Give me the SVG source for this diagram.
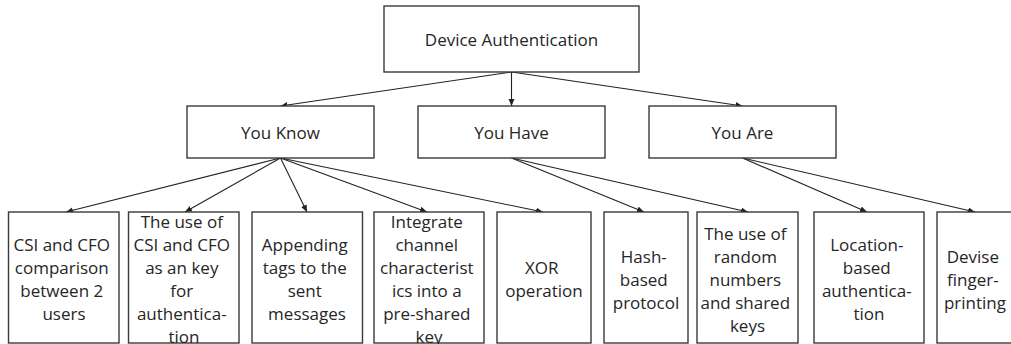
<svg xmlns="http://www.w3.org/2000/svg" width="1011" height="344" viewBox="0 0 1011 344">
  <style>
    .box { fill: #ffffff; stroke: #3a3a3a; stroke-width: 1.4; }
    .lbl { font-family: "Open Sans", "Liberation Sans", sans-serif; font-size: 17px; fill: #262626; text-anchor: middle; }
    .edge { stroke: #222222; stroke-width: 1.1; fill: none; marker-end: url(#arrow); }
  </style>
  <defs>
    <marker id="arrow" markerUnits="userSpaceOnUse" markerWidth="8" markerHeight="8" refX="7" refY="3" orient="auto">
      <path d="M0,0 L7,3 L0,6 Z" fill="#222222"/>
    </marker>
  </defs>

  <!-- connectors -->
  <g id="connectors">
    <line class="edge" x1="511.5" y1="72" x2="280.5" y2="106"/>
    <line class="edge" x1="511.5" y1="72" x2="511.5" y2="106"/>
    <line class="edge" x1="511.5" y1="72" x2="742.5" y2="106"/>
    <line class="edge" x1="280.5" y1="158" x2="66" y2="212"/>
    <line class="edge" x1="280.5" y1="158" x2="185" y2="212"/>
    <line class="edge" x1="280.5" y1="158" x2="307" y2="212"/>
    <line class="edge" x1="280.5" y1="158" x2="427" y2="212"/>
    <line class="edge" x1="280.5" y1="158" x2="543" y2="212"/>
    <line class="edge" x1="511.5" y1="158" x2="644" y2="212"/>
    <line class="edge" x1="511.5" y1="158" x2="748" y2="212"/>
    <line class="edge" x1="742.5" y1="158" x2="867" y2="212"/>
    <line class="edge" x1="742.5" y1="158" x2="975" y2="212"/>
  </g>

  <!-- root -->
  <g id="device-authentication">
    <rect class="box" x="384" y="6" width="255" height="66"/>
    <text class="lbl" x="511.5" y="46">Device Authentication</text>
  </g>

  <!-- categories -->
  <g id="you-know">
    <rect class="box" x="187" y="106" width="187" height="52"/>
    <text class="lbl" x="280.5" y="139">You Know</text>
  </g>
  <g id="you-have">
    <rect class="box" x="418" y="106" width="187" height="52"/>
    <text class="lbl" x="511.5" y="139">You Have</text>
  </g>
  <g id="you-are">
    <rect class="box" x="649" y="106" width="187" height="52"/>
    <text class="lbl" x="742.5" y="139">You Are</text>
  </g>

  <!-- methods -->
  <g id="csi-cfo-comparison">
    <rect class="box" x="8.5" y="212" width="110.5" height="131"/>
    <text class="lbl" x="64">
      <tspan x="64" y="251">CSI and CFO</tspan>
      <tspan x="64" y="274">comparison</tspan>
      <tspan x="64" y="297">between 2</tspan>
      <tspan x="64" y="320">users</tspan>
    </text>
  </g>
  <g id="csi-cfo-key">
    <rect class="box" x="128.5" y="212" width="110.5" height="131"/>
    <text class="lbl" x="184">
      <tspan x="184" y="228">The use of</tspan>
      <tspan x="184" y="251">CSI and CFO</tspan>
      <tspan x="184" y="274">as an key</tspan>
      <tspan x="184" y="297">for</tspan>
      <tspan x="184" y="320">authentica-</tspan>
      <tspan x="184" y="343">tion</tspan>
    </text>
  </g>
  <g id="appending-tags">
    <rect class="box" x="252" y="212" width="110.5" height="131"/>
    <text class="lbl" x="307">
      <tspan x="307" y="251">Appending</tspan>
      <tspan x="307" y="274">tags to the</tspan>
      <tspan x="307" y="297">sent</tspan>
      <tspan x="307" y="320">messages</tspan>
    </text>
  </g>
  <g id="channel-characteristics">
    <rect class="box" x="374" y="212" width="110" height="131"/>
    <text class="lbl" x="429">
      <tspan x="429" y="228">Integrate</tspan>
      <tspan x="429" y="251">channel</tspan>
      <tspan x="429" y="274">characterist</tspan>
      <tspan x="429" y="297">ics into a</tspan>
      <tspan x="429" y="320">pre-shared</tspan>
      <tspan x="429" y="343">key</tspan>
    </text>
  </g>
  <g id="xor-operation">
    <rect class="box" x="497" y="212" width="94" height="131"/>
    <text class="lbl" x="544">
      <tspan x="544" y="274">XOR</tspan>
      <tspan x="544" y="297">operation</tspan>
    </text>
  </g>
  <g id="hash-protocol">
    <rect class="box" x="604" y="212" width="84" height="131"/>
    <text class="lbl" x="646">
      <tspan x="646" y="263">Hash-</tspan>
      <tspan x="646" y="286">based</tspan>
      <tspan x="646" y="309">protocol</tspan>
    </text>
  </g>
  <g id="random-numbers">
    <rect class="box" x="697" y="212" width="101" height="131"/>
    <text class="lbl" x="747.5">
      <tspan x="747.5" y="240">The use of</tspan>
      <tspan x="747.5" y="263">random</tspan>
      <tspan x="747.5" y="286">numbers</tspan>
      <tspan x="747.5" y="309">and shared</tspan>
      <tspan x="747.5" y="332">keys</tspan>
    </text>
  </g>
  <g id="location-based">
    <rect class="box" x="814" y="212" width="110" height="131"/>
    <text class="lbl" x="869">
      <tspan x="869" y="251">Location-</tspan>
      <tspan x="869" y="274">based</tspan>
      <tspan x="869" y="297">authentica-</tspan>
      <tspan x="869" y="320">tion</tspan>
    </text>
  </g>
  <g id="fingerprinting">
    <rect class="box" x="937" y="212" width="80" height="131"/>
    <text class="lbl" x="975">
      <tspan x="975" y="263">Devise</tspan>
      <tspan x="975" y="286">finger-</tspan>
      <tspan x="975" y="309">printing</tspan>
    </text>
  </g>
</svg>
